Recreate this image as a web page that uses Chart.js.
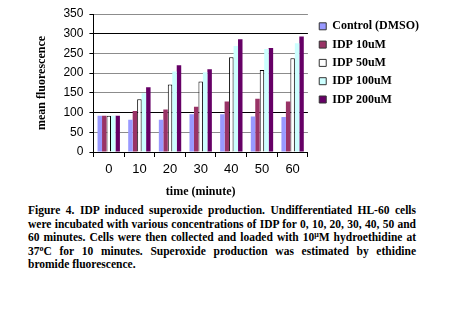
<!DOCTYPE html>
<html>
<head>
<meta charset="utf-8">
<script src="https://cdn.jsdelivr.net/npm/chart.js@4.4.1/dist/chart.umd.min.js"></script>
<style>
  body { margin: 0; background: #fff; width: 450px; height: 326px; position: relative; overflow: hidden; }
  #fig { position: absolute; left: 0; top: 0; }
  .caption {
    position: absolute; left: 28px; top: 204px; width: 388px;
    font-family: "Liberation Serif", "Times New Roman", serif;
    font-weight: bold; font-size: 11.5px; line-height: 13.6px; color: #000;
  }
  .caption div { text-align: justify; text-align-last: justify; white-space: nowrap; }
  .caption div.last { text-align-last: left; }
  .caption sup { font-size: 8px; line-height: 0; vertical-align: 4px; }
</style>
</head>
<body>
<canvas id="fig" width="450" height="200"></canvas>
<div class="caption">
  <div>Figure 4. IDP induced superoxide production. Undifferentiated HL-60 cells</div>
  <div>were incubated with various concentrations of IDP for 0, 10, 20, 30, 40, 50 and</div>
  <div>60 minutes. Cells were then collected and loaded with 10<sup>μ</sup>M hydroethidine at</div>
  <div>37<sup>o</sup>C for 10 minutes. Superoxide production was estimated by ethidine</div>
  <div class="last">bromide fluorescence.</div>
</div>
<script>
// dati
const timeLabels = ['0', '10', '20', '30', '40', '50', '60'];
const control = [92, 82, 82, 96, 96, 90, 89];
const idp10 = [92, 104, 108, 115, 128, 135, 128];
const idp50 = [92, 134, 171, 179, 240, 208, 238];
const idp100 = [92, 149, 204, 202, 269, 261, 276];
const idp200 = [92, 164, 220, 210, 286, 264, 293];

const serif = '"Liberation Serif", "Times New Roman", serif';
const sans = '"Liberation Sans", Arial, sans-serif';

function bar(label, data, color, border) {
    return {
        label: label,
        data: data,
        backgroundColor: color,
        borderColor: '#000',
        borderWidth: border,
        borderSkipped: 'bottom'
    };
}

const ctx = document.getElementById('fig').getContext('2d');
const chart = new Chart(ctx, {
    type: 'bar',
    data: {
        labels: timeLabels,
        datasets: [
            bar('Control (DMSO)', control, '#9999ff', 0),
            bar('IDP 10uM', idp10, '#993366', 0),
            bar('IDP 50uM', idp50, '#ffffff', 1),
            bar('IDP 100uM', idp100, '#ccffff', 0),
            bar('IDP 200uM', idp200, '#660066', 0)
        ]
    },
    options: {
        responsive: false,
        devicePixelRatio: 1,
        animation: false,
        datasets: { bar: { categoryPercentage: 0.73, barPercentage: 1 } },
        layout: { padding: { left: 30, top: 14, right: 21, bottom: 0 } },
        plugins: {
            tooltip: { enabled: false },
            legend: {
                position: 'right',
                align: 'start',
                maxWidth: 160,
                labels: {
                    boxWidth: 7,
                    boxHeight: 7,
                    padding: 6.3,
                    color: '#000',
                    font: { family: serif, size: 12, weight: 'bold' },
                    generateLabels: (c) => Chart.defaults.plugins.legend.labels.generateLabels(c).map(it => {
                        it.lineWidth = 1;
                        it.strokeStyle = '#333';
                        return it;
                    })
                }
            }
        },
        scales: {
            x: {
                grid: { drawOnChartArea: false, tickLength: 5, color: '#000' },
                border: { color: '#000' },
                ticks: { color: '#000', padding: 5, font: { family: sans, size: 13 } },
                title: {
                    display: true, text: 'time (minute)', color: '#000',
                    font: { family: serif, size: 12, weight: 'bold' },
                    padding: { top: 2, bottom: 1 }
                }
            },
            y: {
                min: 0, max: 350,
                ticks: { stepSize: 50, color: '#000', padding: 6, font: { family: sans, size: 12 } },
                grid: {
                    tickLength: 4,
                    tickColor: '#000',
                    color: (c) => (c.tick && (c.tick.value === 100 || c.tick.value === 300)) ? '#000' : '#8c8c8c'
                },
                border: { color: '#000' },
                title: {
                    display: true, text: 'mean fluorescence', color: '#000',
                    font: { family: serif, size: 12, weight: 'bold' },
                    padding: { top: 5, bottom: 8 }
                }
            },
            // asse vuoto a destra: solo per lasciare spazio prima della legenda
            gap: {
                position: 'right',
                display: true,
                ticks: { display: false },
                grid: { display: false },
                border: { display: false },
                afterFit: (s) => { s.width = 5; }
            }
        }
    }
});
</script>
</body>
</html>
